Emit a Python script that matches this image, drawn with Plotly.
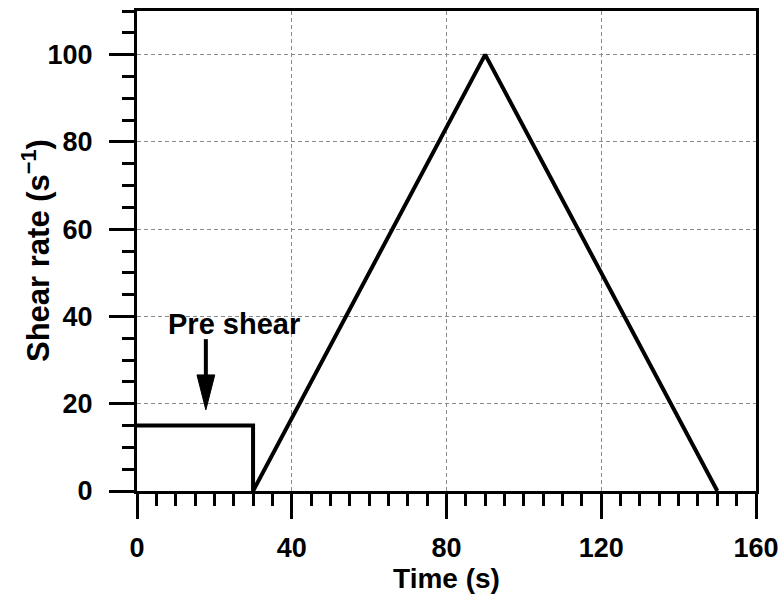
import plotly.graph_objects as go

time_s = [0, 30, 30, 90, 150]
shear_rate = [15, 15, 0, 100, 0]
x_ticks = [0, 40, 80, 120, 160]
y_ticks = [0, 20, 40, 60, 80, 100]

x_title = "Time (s)"
y_title = "Shear rate (s<sup>−1</sup>)"

# annotation (arrow) data positions
label_text = "Pre shear"
label_x, label_y = 25.0, 38.3
arrow_x, arrow_tail_y, arrow_tip_y = 17.8, 34.8, 18.6
head_len_y, head_half_w_x = 8.0, 2.3

font = "Liberation Sans, Arial, sans-serif"

fig = go.Figure()
fig.add_trace(go.Scatter(x=time_s, y=shear_rate, mode="lines",
                         line=dict(color="black", width=4), showlegend=False))

axis_common = dict(
    showline=True, linecolor="black", linewidth=3, mirror=True,
    ticks="outside", ticklen=25, tickwidth=3, tickcolor="black",
    showgrid=True, gridcolor="#8a8a8a", gridwidth=1, griddash="4px,3px",
    zeroline=False, automargin=False,
    tickfont=dict(family=font, size=27, color="black", weight="bold"),
    minor=dict(ticks="outside", ticklen=12, tickwidth=3, tickcolor="black", dtick=5, showgrid=False),
)

fig.update_xaxes(range=[0, 160], tickvals=x_ticks, ticktext=[str(v) for v in x_ticks],
                 ticklabelstandoff=6,
                 title=dict(text=x_title, standoff=0,
                            font=dict(family=font, size=28, color="black", weight="bold")),
                 **axis_common)
fig.update_yaxes(range=[0, 110], tickvals=y_ticks, ticktext=[str(v) for v in y_ticks],
                 ticklabelstandoff=11, **axis_common)

# y-axis title as a rotated annotation
fig.add_annotation(xref="paper", yref="paper", x=0, y=0.5, xanchor="center", yanchor="middle",
                   xshift=-101, textangle=-90, text=y_title, showarrow=False,
                   font=dict(family=font, size=31, color="black", weight="bold"))

fig.add_annotation(x=label_x, y=label_y, text="<b>" + label_text + "</b>", showarrow=False,
                   font=dict(family=font, size=29, color="black"))
# arrow shaft
fig.add_shape(type="line", x0=arrow_x, x1=arrow_x, y0=arrow_tail_y, y1=arrow_tip_y + head_len_y * 0.9,
              line=dict(color="black", width=4))
# arrow head
fig.add_shape(type="path",
              path=f"M {arrow_x - head_half_w_x} {arrow_tip_y + head_len_y} "
                   f"L {arrow_x + head_half_w_x} {arrow_tip_y + head_len_y} "
                   f"L {arrow_x} {arrow_tip_y} Z",
              fillcolor="black", line=dict(color="black", width=1))

fig.update_layout(width=783, height=598, margin=dict(l=137, r=27, t=11, b=107),
                  plot_bgcolor="white", paper_bgcolor="white")

fig.write_html("out.html")
